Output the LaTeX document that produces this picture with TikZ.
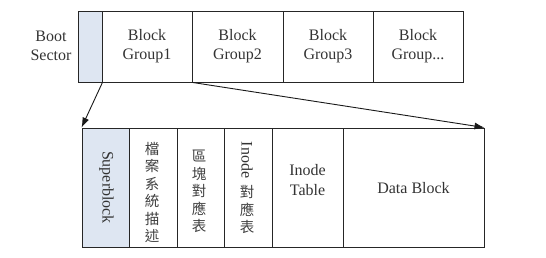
\documentclass[tikz,border=0pt]{standalone}
\usepackage{fontspec}
\setmainfont{Liberation Serif}
\newfontfamily\cjk{Noto Sans CJK TC}
\usetikzlibrary{arrows.meta}
\definecolor{paleblue}{RGB}{222,230,242}
\begin{document}
\begin{tikzpicture}[x=1pt,y=-1pt,
  box/.style={draw=black!85,line width=0.9pt,inner sep=0pt,anchor=center},
  lbl/.style={align=center,inner sep=0pt,text=black!80,font=\fontsize{16}{19.5}\selectfont},
  vch/.style={align=center,inner sep=0pt,text=black!75,font=\cjk\fontsize{14.5}{17.5}\selectfont},
  arr/.style={draw=black!90,line width=0.9pt,-{Latex[length=10pt,width=7pt]}}]
\useasboundingbox (0,0) rectangle (546,257);
% top row
\node[box,fill=paleblue,minimum width=24pt,minimum height=71pt] (bs) at (90,46.5) {};
\node[box,minimum width=90pt,minimum height=71pt] (g1) at (147,46.5) {};
\node[box,minimum width=91pt,minimum height=71pt] (g2) at (237.5,46.5) {};
\node[box,minimum width=90pt,minimum height=71pt] (g3) at (328,46.5) {};
\node[box,minimum width=90pt,minimum height=71pt] (g4) at (418,46.5) {};
\node[lbl] (bst) at (51,46) {Boot\\Sector};
\node[lbl] (g1t) at (147,46) {Block\\Group1};
\node[lbl] (g2t) at (237.5,46) {Block\\Group2};
\node[lbl] (g3t) at (328,46) {Block\\Group3};
\node[lbl] (g4t) at (418,46) {Block\\Group...};
% bottom row
\node[box,fill=paleblue,minimum width=47pt,minimum height=119pt] (sb) at (105.5,187.5) {};
\node[box,minimum width=48pt,minimum height=119pt] (c2) at (153,187.5) {};
\node[box,minimum width=47pt,minimum height=119pt] (c3) at (200.5,187.5) {};
\node[box,minimum width=48pt,minimum height=119pt] (c4) at (248,187.5) {};
\node[box,minimum width=71pt,minimum height=119pt] (it) at (307.5,187.5) {};
\node[box,minimum width=141pt,minimum height=119pt] (db) at (413.5,187.5) {};
\node[lbl,rotate=-90] (sbt) at (106.5,187.5) {Superblock};
\node[vch] (c2t) at (152,192.5) {檔\\案\\系\\統\\描\\述};
\node[vch] (c3t) at (199,191.5) {區\\塊\\對\\應\\表};
\node[lbl,rotate=-90] (c4a) at (247,160) {Inode};
\node[vch] (c4b) at (247,209.5) {對\\應\\表};
\node[lbl] (itt) at (307.5,180) {Inode\\Table};
\node[lbl] (dbt) at (413.5,188) {Data Block};
% connectors
\draw[arr] (bs.south east) -- (sb.north west);
\draw[arr] (g1.south east) -- (db.north east);
\end{tikzpicture}
\end{document}
